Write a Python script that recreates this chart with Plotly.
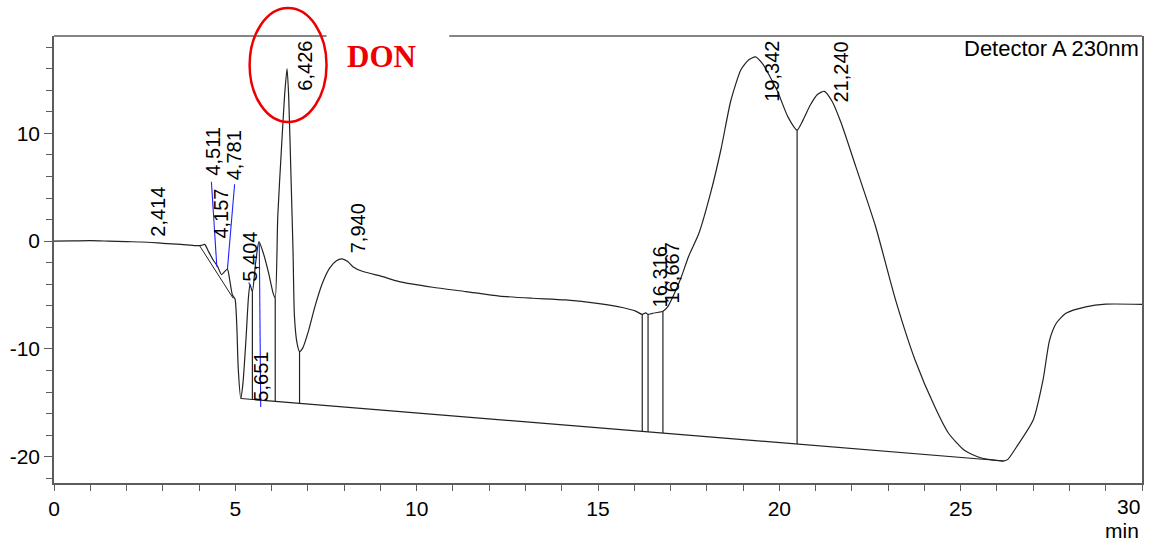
import numpy as np
import plotly.graph_objects as go

# Detector signal (time in min, signal in mAU)
time_min = [0.0, 0.5, 1.0, 1.5, 2.0, 2.414, 3.0, 3.5, 3.9, 4.06, 4.157, 4.25, 4.38,
            4.511, 4.62, 4.781, 4.84, 4.92, 4.99, 5.04, 5.08, 5.15, 5.21, 5.29, 5.36,
            5.404, 5.47, 5.56, 5.651, 5.78, 5.92, 6.04, 6.10, 6.17, 6.27, 6.36, 6.426,
            6.47, 6.54, 6.59, 6.63, 6.70, 6.77, 6.86, 7.02, 7.2, 7.4, 7.6, 7.78, 7.94,
            8.1, 8.25, 8.5, 9.06, 9.52, 10.44, 11.36, 12.28, 13.19, 14.1, 15.03, 15.67,
            16.04, 16.22, 16.316, 16.38, 16.5, 16.667, 16.79, 16.92, 17.1, 17.3, 17.5,
            17.78, 18.1, 18.39, 18.66, 18.94, 19.15, 19.342, 19.55, 19.75, 19.95, 20.24,
            20.49, 20.65, 20.85, 21.05, 21.24, 21.45, 21.7, 22.1, 22.65, 23.2, 23.74,
            24.29, 24.66, 25.1, 25.55, 26.17, 26.3, 26.54, 27.0, 27.27, 27.45, 27.64,
            27.9, 28.45, 29.0, 30.0]
signal = [0.0, 0.02, 0.05, 0.0, -0.05, -0.08, -0.2, -0.3, -0.42, -0.4, -0.3, -0.9, -1.7,
          -2.35, -3.1, -2.6, -3.5, -5.0, -5.35, -7.8, -11.8, -14.6, -13.2, -9.3, -5.3,
          -4.0, -4.7, -2.0, -0.05, -1.2, -3.0, -4.8, -5.3, 2.3, 8.5, 13.6, 16.0,
          13.5, 5.4, -0.8, -7.0, -9.45, -10.25, -9.9, -8.3, -6.0, -3.9, -2.5, -1.85, -1.65,
          -1.9, -2.4, -2.8, -3.3, -3.76, -4.28, -4.68, -5.1, -5.3, -5.45, -5.8, -6.16,
          -6.5, -6.8, -6.65, -6.8, -6.7, -6.6, -6.5, -6.1, -4.9, -3.3, -1.4,
          0.7, 4.4, 8.5, 13.0, 15.9, 16.8, 17.1, 16.4, 15.2, 13.9, 11.5,
          10.3, 11.2, 12.6, 13.6, 13.9, 13.0, 11.0, 7.0, 1.4, -5.4, -11.0,
          -15.4, -17.8, -19.4, -20.1, -20.4, -20.25, -19.1, -16.6, -12.9, -9.2, -7.6,
          -6.7, -6.1, -5.85, -5.87]

# Integration baselines
main_base_t = [5.15, 26.2]
main_base_y = [-14.6, -20.4]
small_base_t = [4.02, 4.94]
small_base_y = [-0.45, -5.3]

# Valley drop lines (time, signal at valley)
drop_t = [5.47, 6.10, 6.77, 16.22, 16.38, 16.79, 20.49]
drop_y = [-4.7, -5.3, -10.25, -6.8, -6.8, -6.5, 10.3]

# Peak labels
peak_labels = ["2,414", "4,511", "4,157", "4,781", "5,404", "5,651", "6,426",
               "7,940", "16,316", "16,667", "19,342", "21,240"]
label_pos = [(2.86, 2.70), (4.36, 8.31), (4.62, 2.51), (4.97, 7.99), (5.38, -1.43),
             (5.70, -12.6), (6.91, 16.24), (8.39, 1.22), (16.72, -3.33), (17.05, -2.96),
             (19.79, 15.78), (21.69, 15.70)]

# Blue leader lines from shifted labels to their peaks
leader_lines = [((4.34, 5.51), (4.49, -2.37)),
                ((4.98, 5.27), (4.78, -2.68)),
                ((5.66, -0.1), (5.70, -15.4)),
                ((5.37, -3.84), (5.42, -4.2))]

x_ticks = [0, 5, 10, 15, 20, 25, 30]
x_tick_text = ["0", "5", "10", "15", "20", "25", ""]
y_ticks = [-20, -10, 0, 10]
y_tick_text = ["-20", "-10", "0", "10"]

FRAME = "#5c5c5c"
FONT = "Liberation Sans, Arial, sans-serif"

fig = go.Figure()

fig.add_trace(go.Scatter(x=time_min, y=signal, mode="lines",
                         line=dict(color="#222222", width=1.2, shape="spline",
                                   smoothing=0.6),
                         hoverinfo="skip"))

fig.add_trace(go.Scatter(x=main_base_t, y=main_base_y, mode="lines",
                         line=dict(color="#222222", width=1.2), hoverinfo="skip"))
fig.add_trace(go.Scatter(x=small_base_t, y=small_base_y, mode="lines",
                         line=dict(color="#222222", width=1.0), hoverinfo="skip"))

# drop lines from each valley to the main baseline
dx, dy = [], []
for t, v in zip(drop_t, drop_y):
    bottom = float(np.interp(t, main_base_t, main_base_y))
    dx += [t, t, None]
    dy += [v, bottom, None]
fig.add_trace(go.Scatter(x=dx, y=dy, mode="lines",
                         line=dict(color="#222222", width=1.2), hoverinfo="skip"))

lx, ly = [], []
for (x0, y0), (x1, y1) in leader_lines:
    lx += [x0, x1, None]
    ly += [y0, y1, None]
fig.add_trace(go.Scatter(x=lx, y=ly, mode="lines",
                         line=dict(color="#2020ff", width=1.1), hoverinfo="skip"))

annotations = []
for text, (tx, ty) in zip(peak_labels, label_pos):
    annotations.append(dict(x=tx, y=ty, xref="x", yref="y", text=text, textangle=-90,
                            showarrow=False, xanchor="center", yanchor="middle",
                            font=dict(family=FONT, size=20, color="black")))

annotations.append(dict(x=1, y=0.973, xref="paper", yref="paper", xshift=-1,
                        text="Detector A 230nm", showarrow=False,
                        xanchor="right", yanchor="middle",
                        font=dict(family=FONT, size=22, color="black")))
# last x tick label sits flush with the right frame
annotations.append(dict(x=1, y=-0.053, xref="paper", yref="paper", xshift=0,
                        text="30", showarrow=False, xanchor="right", yanchor="middle",
                        font=dict(family=FONT, size=21, color="black")))
annotations.append(dict(x=1, y=-0.107, xref="paper", yref="paper", xshift=-1,
                        text="min", showarrow=False, xanchor="right", yanchor="middle",
                        font=dict(family=FONT, size=21, color="black")))
annotations.append(dict(x=9.03, y=17.1, xref="x", yref="y", text="<b>DON</b>",
                        showarrow=False, xanchor="center", yanchor="middle",
                        font=dict(family="Liberation Serif, Times New Roman, serif",
                                  size=31, color="#ee0000")))

shapes = [
    # top frame, broken where the DON caption sits
    dict(type="line", xref="paper", yref="paper", x0=0, x1=0.2505, y0=1, y1=1,
         line=dict(color=FRAME, width=1.5)),
    dict(type="line", xref="paper", yref="paper", x0=0.3633, x1=1, y0=1, y1=1,
         line=dict(color=FRAME, width=1.5)),
    # highlight ring around the DON peak
    dict(type="circle", xref="paper", yref="paper", x0=0.1798, x1=0.2505,
         y0=0.8076, y1=1.0626, line=dict(color="#ee0000", width=2.5)),
]

fig.update_layout(
    width=1149, height=545,
    margin=dict(l=54, r=5, t=36, b=62),
    paper_bgcolor="white", plot_bgcolor="white",
    showlegend=False,
    annotations=annotations,
    shapes=shapes,
    font=dict(family=FONT, size=21, color="black"),
)
fig.update_xaxes(range=[0, 30], tickvals=x_ticks, ticktext=x_tick_text,
                 ticks="outside", ticklen=6,
                 tickwidth=1.2, tickcolor=FRAME, showline=True, linecolor=FRAME,
                 linewidth=1.5, showgrid=False, zeroline=False,
                 tickfont=dict(family=FONT, size=21, color="black"),
                 minor=dict(dtick=1, tick0=0, ticks="outside", ticklen=6,
                            tickcolor=FRAME, tickwidth=1.2, showgrid=False))
fig.update_yaxes(range=[-22.44, 19.03], tickvals=y_ticks, ticktext=y_tick_text,
                 ticks="outside", ticklen=8,
                 tickwidth=1.2, tickcolor=FRAME, showline=True, linecolor=FRAME,
                 linewidth=1.5, mirror=True, showgrid=False, zeroline=False,
                 tickfont=dict(family=FONT, size=21, color="black"),
                 minor=dict(dtick=2, tick0=0, ticks="outside", ticklen=6,
                            tickcolor=FRAME, tickwidth=1.2, showgrid=False))

fig.write_html("out.html")
